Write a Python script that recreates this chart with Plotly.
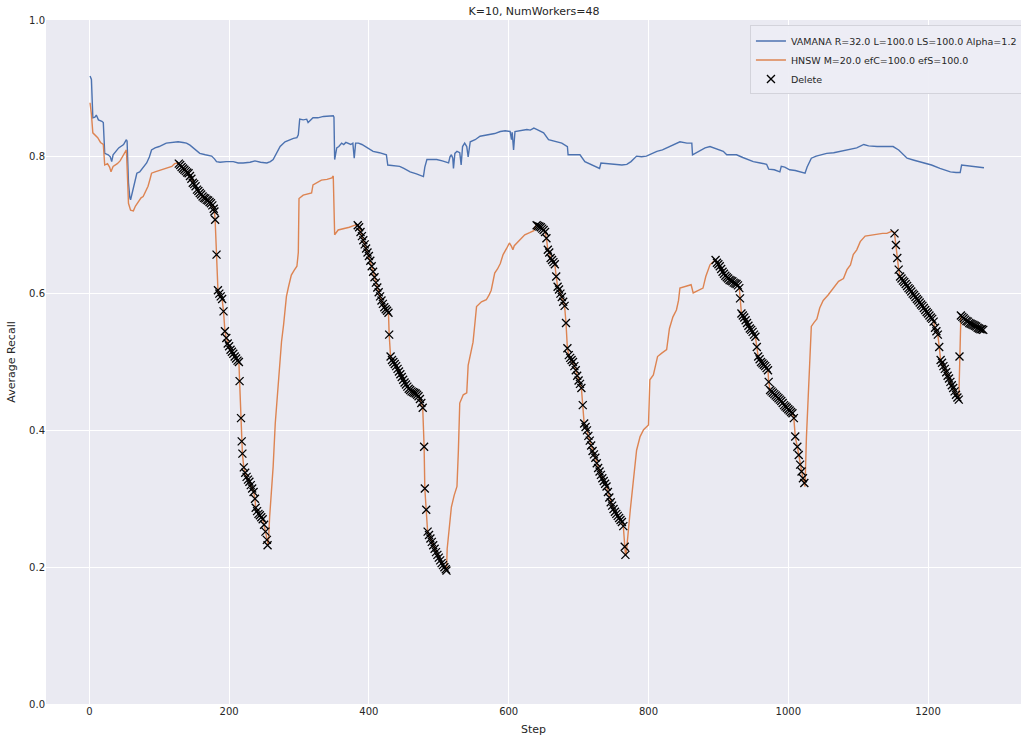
import plotly.graph_objects as go

# ---------------- data ----------------
vamana_step = [1, 3, 5, 8, 10, 13, 18, 20, 22, 27, 30, 32, 34, 38, 42, 49, 53, 54, 56, 58, 59, 62, 65, 68, 72, 77, 82, 86, 89, 94, 100, 110, 120, 127, 134, 139, 144, 149, 154, 158, 166, 175, 179, 182, 187, 196, 206, 213, 220, 230, 237, 245, 254, 259, 263, 268, 273, 280, 286, 292, 297, 299, 301, 306, 311, 313, 320, 327, 335, 342, 349, 350, 351, 354, 357, 361, 364, 367, 370, 374, 377, 379, 381, 385, 390, 395, 399, 406, 415, 425, 427, 435, 444, 450, 459, 468, 478, 480, 483, 490, 497, 505, 514, 516, 518, 520, 521, 523, 526, 530, 532, 534, 537, 540, 542, 545, 552, 559, 566, 573, 580, 588, 595, 602, 604, 605, 607, 609, 616, 626, 631, 636, 640, 645, 650, 657, 665, 676, 684, 685, 695, 702, 709, 715, 722, 730, 732, 740, 754, 762, 769, 775, 783, 790, 797, 805, 812, 820, 826, 835, 845, 855, 862, 863, 868, 874, 881, 888, 895, 902, 907, 912, 920, 926, 935, 943, 950, 960, 969, 972, 980, 988, 990, 995, 1002, 1010, 1018, 1024, 1027, 1033, 1040, 1046, 1055, 1065, 1075, 1088, 1098, 1108, 1115, 1127, 1140, 1150, 1158, 1165, 1170, 1180, 1193, 1205, 1217, 1225, 1232, 1240, 1246, 1248, 1255, 1265, 1272, 1280]
vamana_recall = [0.918, 0.913, 0.857, 0.858, 0.861, 0.854, 0.852, 0.850, 0.805, 0.803, 0.800, 0.793, 0.803, 0.808, 0.813, 0.818, 0.825, 0.823, 0.762, 0.740, 0.737, 0.750, 0.762, 0.776, 0.778, 0.785, 0.791, 0.800, 0.810, 0.813, 0.815, 0.820, 0.821, 0.822, 0.821, 0.820, 0.817, 0.813, 0.809, 0.805, 0.803, 0.801, 0.797, 0.793, 0.792, 0.793, 0.793, 0.791, 0.791, 0.792, 0.794, 0.792, 0.791, 0.793, 0.796, 0.806, 0.815, 0.822, 0.825, 0.827, 0.828, 0.832, 0.855, 0.854, 0.855, 0.850, 0.857, 0.857, 0.859, 0.860, 0.860, 0.858, 0.796, 0.813, 0.815, 0.820, 0.818, 0.821, 0.820, 0.818, 0.820, 0.798, 0.820, 0.820, 0.818, 0.815, 0.813, 0.808, 0.806, 0.803, 0.788, 0.787, 0.786, 0.783, 0.778, 0.775, 0.771, 0.785, 0.796, 0.796, 0.796, 0.794, 0.791, 0.800, 0.803, 0.798, 0.783, 0.805, 0.808, 0.806, 0.788, 0.815, 0.820, 0.815, 0.800, 0.822, 0.825, 0.830, 0.831, 0.832, 0.834, 0.837, 0.838, 0.837, 0.825, 0.836, 0.810, 0.837, 0.838, 0.840, 0.839, 0.842, 0.840, 0.838, 0.835, 0.825, 0.823, 0.820, 0.815, 0.803, 0.803, 0.803, 0.793, 0.790, 0.787, 0.783, 0.791, 0.790, 0.789, 0.788, 0.789, 0.793, 0.801, 0.800, 0.801, 0.805, 0.808, 0.810, 0.813, 0.818, 0.822, 0.820, 0.820, 0.803, 0.806, 0.810, 0.813, 0.815, 0.812, 0.810, 0.808, 0.803, 0.803, 0.803, 0.799, 0.796, 0.793, 0.791, 0.789, 0.782, 0.781, 0.778, 0.786, 0.785, 0.781, 0.780, 0.778, 0.776, 0.785, 0.798, 0.801, 0.803, 0.805, 0.806, 0.808, 0.810, 0.813, 0.818, 0.816, 0.815, 0.815, 0.815, 0.810, 0.803, 0.798, 0.795, 0.791, 0.788, 0.783, 0.780, 0.778, 0.777, 0.777, 0.788, 0.787, 0.786, 0.785, 0.784]

# HNSW recall during insert phases
hnsw_insert_step = [1, 3, 5, 8, 12, 16, 20, 22, 26, 29, 31, 34, 40, 44, 49, 53, 55, 56, 59, 63, 66, 70, 74, 77, 81, 84, 87, 89, 94, 100, 108, 113, 118, 122, 126,
                    256, 258, 261, 263, 266, 268, 271, 273, 275, 278, 280, 282, 285, 289, 293, 297, 299, 300, 306, 312, 318, 320, 325, 332, 340, 347, 349, 351, 356, 365, 372, 380, 383,
                    512, 515, 518, 522, 526, 528, 530, 535, 540, 542, 546, 549, 552, 554, 561, 568, 572, 575, 580, 584, 588, 592, 597, 601, 604, 606, 608, 616, 623, 630, 636, 639,
                    768, 771, 774, 778, 781, 783, 788, 793, 800, 802, 807, 810, 813, 819, 826, 830, 835, 840, 843, 845, 852, 861, 864, 870, 878, 882, 888, 893, 895,
                    1024, 1026, 1029, 1031, 1033, 1037, 1041, 1045, 1050, 1057, 1065, 1072, 1079, 1084, 1089, 1093, 1098, 1103, 1110, 1122, 1135, 1141, 1148, 1151]
hnsw_insert_recall = [0.879, 0.862, 0.835, 0.832, 0.828, 0.821, 0.818, 0.788, 0.790, 0.785, 0.778, 0.786, 0.790, 0.794, 0.803, 0.810, 0.760, 0.732, 0.722, 0.721, 0.728, 0.735, 0.740, 0.742, 0.750, 0.757, 0.768, 0.776, 0.778, 0.780, 0.783, 0.785, 0.786, 0.790, 0.791,
                      0.232, 0.274, 0.320, 0.347, 0.410, 0.440, 0.469, 0.500, 0.530, 0.555, 0.575, 0.596, 0.610, 0.627, 0.634, 0.640, 0.660, 0.739, 0.744, 0.745, 0.747, 0.759, 0.762, 0.766, 0.767, 0.769, 0.772, 0.686, 0.693, 0.695, 0.697, 0.700, 0.700,
                      0.227, 0.260, 0.288, 0.305, 0.318, 0.370, 0.440, 0.452, 0.455, 0.495, 0.512, 0.529, 0.560, 0.581, 0.588, 0.591, 0.598, 0.605, 0.630, 0.636, 0.644, 0.657, 0.666, 0.674, 0.669, 0.664, 0.670, 0.678, 0.686, 0.689, 0.692, 0.700,
                      0.218, 0.255, 0.284, 0.323, 0.350, 0.371, 0.391, 0.401, 0.408, 0.474, 0.481, 0.495, 0.508, 0.513, 0.518, 0.549, 0.566, 0.576, 0.590, 0.608, 0.610, 0.613, 0.601, 0.604, 0.608, 0.625, 0.642, 0.647, 0.649,
                      0.318, 0.390, 0.464, 0.520, 0.552, 0.558, 0.563, 0.579, 0.590, 0.598, 0.608, 0.618, 0.622, 0.635, 0.642, 0.657, 0.664, 0.676, 0.684, 0.686, 0.688, 0.688, 0.691, 0.690]

# Delete steps (HNSW recall measured at each delete)
delete_step = [128, 130, 132, 134, 136, 138, 140, 142, 144, 146, 148, 150, 152, 154, 156, 158, 160, 162, 164, 166, 168, 170, 172, 174, 176, 178, 179, 180, 182, 184, 186, 188, 190, 192, 194, 196, 198, 200, 202, 204, 206, 208, 210, 212, 214, 215, 217, 218, 219, 221, 223, 225, 227, 229, 231, 233, 235, 237, 238, 240, 242, 244, 246, 248, 250, 252, 254, 255,
               384, 386, 388, 390, 392, 394, 396, 398, 400, 402, 404, 406, 408, 410, 412, 414, 416, 418, 420, 422, 424, 426, 428, 429, 431, 433, 435, 437, 439, 441, 443, 445, 447, 449, 451, 453, 455, 457, 459, 461, 463, 465, 467, 469, 471, 473, 475, 477, 479, 480, 482, 484, 486, 488, 490, 492, 494, 496, 498, 500, 502, 504, 506, 508, 510, 511,
               640, 642, 644, 646, 648, 650, 652, 654, 656, 658, 660, 662, 664, 666, 668, 670, 672, 674, 676, 678, 680, 682, 684, 686, 688, 690, 692, 694, 696, 698, 700, 702, 704, 706, 708, 710, 712, 714, 716, 718, 720, 722, 724, 726, 728, 730, 732, 734, 736, 738, 740, 742, 744, 746, 748, 750, 752, 754, 756, 758, 760, 762, 764, 766, 767,
               896, 898, 900, 902, 904, 906, 908, 910, 912, 914, 916, 918, 920, 922, 924, 926, 928, 930, 931, 933, 935, 937, 939, 941, 943, 945, 947, 949, 951, 953, 955, 957, 959, 961, 963, 965, 967, 969, 971, 972, 974, 976, 978, 980, 982, 984, 986, 988, 990, 992, 994, 996, 998, 1000, 1002, 1004, 1006, 1008, 1010, 1013, 1015, 1017, 1019, 1021, 1023,
               1152, 1154, 1156, 1158, 1160, 1162, 1164, 1166, 1168, 1170, 1172, 1174, 1176, 1178, 1180, 1182, 1184, 1186, 1188, 1190, 1192, 1194, 1196, 1198, 1200, 1202, 1204, 1206, 1208, 1210, 1212, 1214, 1216, 1218, 1220, 1222, 1224, 1226, 1228, 1230, 1232, 1234, 1236, 1238, 1240, 1242, 1244, 1245, 1247, 1249, 1251, 1253, 1255, 1257, 1259, 1261, 1263, 1265, 1267, 1269, 1271, 1273, 1275, 1277, 1279]
delete_recall = [0.790, 0.788, 0.785, 0.783, 0.781, 0.779, 0.777, 0.776, 0.772, 0.768, 0.762, 0.760, 0.757, 0.752, 0.750, 0.747, 0.745, 0.742, 0.740, 0.739, 0.737, 0.736, 0.734, 0.732, 0.729, 0.724, 0.720, 0.708, 0.657, 0.605, 0.600, 0.596, 0.592, 0.574, 0.545, 0.535, 0.527, 0.523, 0.518, 0.515, 0.512, 0.508, 0.505, 0.502, 0.500, 0.472, 0.418, 0.384, 0.366, 0.346, 0.338, 0.332, 0.328, 0.325, 0.320, 0.315, 0.310, 0.300, 0.287, 0.282, 0.278, 0.276, 0.273, 0.270, 0.262, 0.252, 0.240, 0.232,
                 0.700, 0.697, 0.690, 0.684, 0.678, 0.672, 0.666, 0.660, 0.655, 0.648, 0.640, 0.632, 0.624, 0.616, 0.609, 0.602, 0.596, 0.590, 0.585, 0.580, 0.577, 0.575, 0.572, 0.540, 0.508, 0.503, 0.500, 0.497, 0.494, 0.490, 0.486, 0.482, 0.478, 0.474, 0.470, 0.467, 0.464, 0.461, 0.459, 0.457, 0.456, 0.455, 0.454, 0.452, 0.450, 0.446, 0.440, 0.433, 0.376, 0.315, 0.284, 0.252, 0.247, 0.242, 0.237, 0.232, 0.227, 0.222, 0.218, 0.214, 0.210, 0.206, 0.203, 0.200, 0.197, 0.195,
                 0.700, 0.699, 0.698, 0.697, 0.695, 0.693, 0.690, 0.681, 0.664, 0.660, 0.652, 0.649, 0.646, 0.643, 0.625, 0.610, 0.606, 0.600, 0.595, 0.588, 0.582, 0.557, 0.520, 0.510, 0.506, 0.503, 0.500, 0.494, 0.488, 0.480, 0.473, 0.468, 0.462, 0.437, 0.410, 0.405, 0.400, 0.392, 0.385, 0.378, 0.370, 0.365, 0.360, 0.352, 0.345, 0.340, 0.335, 0.330, 0.326, 0.322, 0.318, 0.310, 0.302, 0.295, 0.290, 0.285, 0.281, 0.278, 0.275, 0.272, 0.269, 0.266, 0.260, 0.230, 0.218,
                 0.649, 0.645, 0.643, 0.640, 0.636, 0.632, 0.629, 0.626, 0.624, 0.622, 0.620, 0.619, 0.618, 0.616, 0.615, 0.614, 0.612, 0.608, 0.593, 0.571, 0.568, 0.565, 0.561, 0.557, 0.553, 0.549, 0.547, 0.544, 0.540, 0.537, 0.522, 0.508, 0.504, 0.500, 0.498, 0.496, 0.494, 0.491, 0.488, 0.471, 0.459, 0.457, 0.455, 0.453, 0.451, 0.449, 0.447, 0.445, 0.443, 0.440, 0.437, 0.435, 0.433, 0.431, 0.429, 0.427, 0.425, 0.418, 0.391, 0.376, 0.364, 0.350, 0.340, 0.330, 0.323,
                 0.688, 0.671, 0.652, 0.635, 0.625, 0.622, 0.619, 0.617, 0.614, 0.611, 0.608, 0.606, 0.603, 0.600, 0.598, 0.595, 0.592, 0.590, 0.587, 0.584, 0.582, 0.579, 0.576, 0.573, 0.571, 0.568, 0.565, 0.563, 0.559, 0.550, 0.545, 0.540, 0.522, 0.503, 0.499, 0.494, 0.490, 0.485, 0.480, 0.476, 0.471, 0.466, 0.462, 0.457, 0.452, 0.448, 0.445, 0.508, 0.568, 0.566, 0.564, 0.562, 0.560, 0.559, 0.557, 0.556, 0.555, 0.554, 0.553, 0.552, 0.550, 0.549, 0.548, 0.548, 0.547]

x_ticks = [0, 200, 400, 600, 800, 1000, 1200]
y_ticks = [0.0, 0.2, 0.4, 0.6, 0.8, 1.0]

title_text = "K=10, NumWorkers=48"
vamana_name = "VAMANA R=32.0 L=100.0 LS=100.0 Alpha=1.2"
hnsw_name = "HNSW M=20.0 efC=100.0 efS=100.0"

# HNSW line = insert-phase points + delete-phase points, in step order
hnsw_pairs = sorted(zip(hnsw_insert_step + delete_step, hnsw_insert_recall + delete_recall))
hnsw_step = [p[0] for p in hnsw_pairs]
hnsw_recall = [p[1] for p in hnsw_pairs]

FONT = "DejaVu Sans"
TXT = "#262626"

fig = go.Figure()
fig.add_trace(go.Scatter(x=vamana_step, y=vamana_recall, mode="lines", name=vamana_name,
                         line=dict(color="#4C72B0", width=1.4)))
fig.add_trace(go.Scatter(x=hnsw_step, y=hnsw_recall, mode="lines", name=hnsw_name,
                         line=dict(color="#DD8452", width=1.4)))
fig.add_trace(go.Scatter(x=delete_step, y=delete_recall, mode="markers", name="Delete",
                         marker=dict(symbol="x-thin", size=8, color="black",
                                     line=dict(width=1.3, color="black"))))

fig.update_layout(
    width=1021, height=736,
    margin=dict(l=46, r=0, t=20, b=32, autoexpand=False),
    paper_bgcolor="white", plot_bgcolor="#EAEAF2",
    font=dict(family=FONT, size=10, color=TXT),
    title=dict(text=title_text, x=0.523, xanchor="center", xref="container",
               y=1 - 11 / 736, yanchor="middle", yref="container",
               font=dict(family=FONT, size=11, color=TXT)),
    showlegend=True,
    legend=dict(x=0.722, y=0.992, xanchor="left", yanchor="top",
                bgcolor="rgba(237,237,244,0.95)", bordercolor="#D3D3DB", borderwidth=1,
                font=dict(family=FONT, size=9.5, color=TXT), tracegroupgap=0,
                itemwidth=30),
)
fig.update_xaxes(range=[-62, 1333], tickvals=x_ticks, ticktext=[str(v) for v in x_ticks],
                 showgrid=True, gridcolor="white", gridwidth=1, zeroline=False, showline=False,
                 ticks="", automargin=False,
                 title=dict(text="Step", font=dict(family=FONT, size=11, color=TXT), standoff=9),
                 tickfont=dict(family=FONT, size=10, color=TXT))
fig.update_yaxes(range=[0, 1], tickvals=y_ticks, ticktext=[f"{v:.1f}" for v in y_ticks],
                 showgrid=True, gridcolor="white", gridwidth=1, zeroline=False, showline=False,
                 ticks="", automargin=False,
                 title=dict(text="Average Recall", font=dict(family=FONT, size=11, color=TXT), standoff=11),
                 tickfont=dict(family=FONT, size=10, color=TXT))

# remove the browser's default 8px body margin so the figure sits at the page origin
fig.write_html("out.html", config={"displayModeBar": False},
               post_script="document.body.style.margin='0px';")
